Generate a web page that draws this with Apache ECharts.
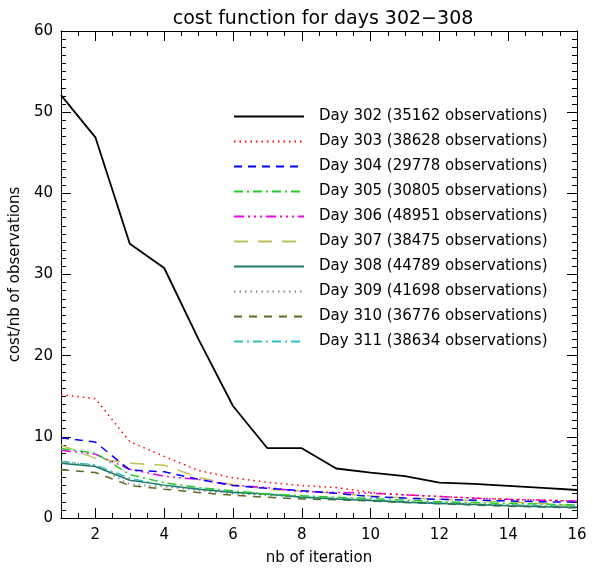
<!DOCTYPE html>
<html>
<head>
<meta charset="utf-8">
<script src="https://cdn.jsdelivr.net/npm/echarts@6/dist/echarts.min.js"></script>
<style>
  html, body { margin: 0; padding: 0; background: #fff; }
  #view { width: 593px; height: 571px; }
</style>
</head>
<body>
<div id="view"></div>
<script>
// iterations on the x axis
var iterations = [1, 2, 3, 4, 5, 6, 7, 8, 9, 10, 11, 12, 13, 14, 15, 16];
var days = [302, 303, 304, 305, 306, 307, 308, 309, 310, 311];
var obsCounts = [35162, 38628, 29778, 30805, 48951, 38475, 44789, 41698, 36776, 38634];

// cost / nb of observations, one array per day
var day302 = [52.1, 46.9, 33.8, 30.8, 22.0, 13.8, 8.6, 8.6, 6.1, 5.6, 5.15, 4.35, 4.2, 3.95, 3.7, 3.45];
var day303 = [15.2, 14.7, 9.4, 7.6, 5.85, 4.95, 4.4, 4.0, 3.75, 3.15, 2.85, 2.65, 2.45, 2.3, 2.2, 2.05];
var day304 = [9.9, 9.35, 5.9, 5.7, 4.75, 4.0, 3.65, 3.35, 3.05, 2.65, 2.45, 2.3, 2.2, 2.1, 2.0, 1.95];
var day305 = [8.55, 8.0, 5.35, 4.35, 3.75, 3.35, 2.95, 2.75, 2.55, 2.4, 2.2, 2.0, 1.9, 1.8, 1.7, 1.6];
var day306 = [8.35, 7.85, 6.0, 5.15, 4.75, 4.05, 3.75, 3.25, 3.15, 3.05, 2.85, 2.65, 2.45, 2.3, 2.2, 2.1];
var day307 = [9.0, 7.35, 6.75, 6.5, 5.0, 4.1, 3.55, 3.3, 3.05, 2.7, 2.5, 2.3, 2.15, 2.0, 1.8, 1.5];
var day308 = [6.75, 6.35, 4.65, 4.05, 3.55, 3.15, 2.95, 2.55, 2.35, 2.15, 1.95, 1.8, 1.65, 1.5, 1.4, 1.3];
var day309 = [6.95, 6.45, 4.15, 3.85, 3.4, 3.0, 2.8, 2.6, 2.4, 2.2, 2.0, 1.85, 1.7, 1.6, 1.5, 1.4];
var day310 = [5.95, 5.6, 4.0, 3.55, 3.15, 2.8, 2.55, 2.35, 2.25, 2.1, 1.9, 1.75, 1.6, 1.45, 1.35, 1.25];
var day311 = [6.95, 6.55, 4.9, 4.0, 3.6, 3.2, 2.9, 2.6, 2.4, 2.2, 2.0, 1.85, 1.7, 1.6, 1.5, 1.4];

var xMajorTicks = [2, 4, 6, 8, 10, 12, 14, 16];

var allValues = [day302, day303, day304, day305, day306, day307, day308, day309, day310, day311];
var colors = ['#000000', '#ff0000', '#0000ff', '#22cc22', '#ee00ee', '#c0c058', '#207868', '#888888', '#5a6a20', '#30c0c0'];
var dashes = ['solid', [1.5, 4], [8, 6], [9, 4, 2, 4], [10, 4, 2, 4, 2, 4, 2, 4], [14, 10], 'solid', [1.5, 4], [8, 7], [9, 4, 2, 4]];

var font = 'DejaVu Sans';
var myChart = echarts.init(document.getElementById('view'));

var series = allValues.map(function (vals, i) {
    return {
        name: 'Day ' + days[i] + ' (' + obsCounts[i] + ' observations)',
        type: 'line',
        xAxisIndex: 0,
        yAxisIndex: 0,
        symbol: 'none',
        showSymbol: false,
        animation: false,
        z: 10 - i,
        lineStyle: {color: colors[i], width: i === 0 ? 1.8 : 1.5, type: dashes[i]},
        itemStyle: {color: colors[i]},
        data: iterations.map(function (x, k) { return [x, vals[k]]; })
    };
});

function xAxisDef(pos, major) {
    var ax = {
        type: 'value', min: 1, max: 16, position: pos,
        axisLine: {show: major, onZero: false, lineStyle: {color: '#000', width: 1}},
        splitLine: {show: false},
        axisLabel: {show: false}
    };
    if (major) {
        ax.axisTick = {inside: true, length: 10, customValues: xMajorTicks, lineStyle: {color: '#000'}};
        if (pos === 'bottom') {
            ax.axisLabel = {show: true, customValues: xMajorTicks, color: '#000', fontFamily: font, fontSize: 15, margin: 10};
            ax.name = 'nb of iteration';
            ax.nameLocation = 'middle';
            ax.nameGap = 33;
            ax.nameTextStyle = {color: '#000', fontFamily: font, fontSize: 15};
        }
    } else {
        ax.interval = 0.5;
        ax.axisTick = {inside: true, length: 5, lineStyle: {color: '#000'}};
    }
    return ax;
}

function yAxisDef(pos, major) {
    var ax = {
        type: 'value', min: 0, max: 60, position: pos,
        axisLine: {show: major, onZero: false, lineStyle: {color: '#000', width: 1}},
        splitLine: {show: false},
        axisLabel: {show: false}
    };
    if (major) {
        ax.interval = 10;
        ax.axisTick = {show: true, inside: true, length: 10, lineStyle: {color: '#000'}};
        if (pos === 'left') {
            ax.axisLabel = {show: true, color: '#000', fontFamily: font, fontSize: 15, margin: 8};
            ax.name = 'cost/nb of observations';
            ax.nameLocation = 'middle';
            ax.nameGap = 35;
            ax.nameTextStyle = {color: '#000', fontFamily: font, fontSize: 15};
        }
    } else {
        ax.interval = 1;
        ax.axisTick = {show: true, inside: true, length: 5, lineStyle: {color: '#000'}};
    }
    return ax;
}

var option = {
    backgroundColor: '#fff',
    animation: false,
    title: {
        text: 'cost function for days 302−308',
        left: 318, top: 5, textAlign: 'center',
        textStyle: {color: '#000', fontFamily: font, fontSize: 19, fontWeight: 'normal'}
    },
    grid: {left: 60, right: 16, top: 31, bottom: 42, containLabel: false},
    legend: {
        orient: 'vertical',
        left: 228, top: 104,
        itemWidth: 70, itemHeight: 14, itemGap: 10,
        itemStyle: {opacity: 0},
        textStyle: {color: '#000', fontFamily: font, fontSize: 15, padding: [0, 0, 0, 10]},
        data: series.map(function (s) { return s.name; })
    },
    xAxis: [xAxisDef('bottom', true), xAxisDef('bottom', false), xAxisDef('top', true), xAxisDef('top', false)],
    yAxis: [yAxisDef('left', true), yAxisDef('left', false), yAxisDef('right', true), yAxisDef('right', false)],
    series: series
};
myChart.setOption(option);
</script>
</body>
</html>
